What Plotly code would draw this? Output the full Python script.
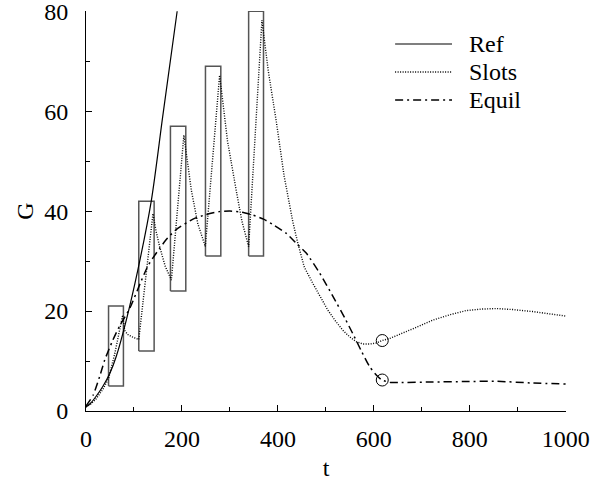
import plotly.graph_objects as go

# ---- data ----
ref_t = [0, 10, 20, 35, 50, 63, 84, 108, 136, 160, 190]
ref_g = [0.8, 1.6, 2.8, 4.9, 7.6, 10.9, 18.2, 28.2, 42.0, 59.0, 80.0]

slots_t = [0, 10, 20, 35, 47, 60, 76.5, 80.6, 87, 94.5, 110,
           139.6, 146, 153.5, 165, 178,
           204, 212, 219.5, 233, 248.7,
           278.5, 295, 313, 325, 339,
           366.7, 380, 396.7, 413, 431, 441.7, 455, 473, 490, 504, 520, 535, 550, 563,
           577, 591, 605, 617.5, 635, 653.5, 690, 723, 760, 792.5, 825, 855, 890, 931, 965, 1000]
slots_g = [0.8, 1.4, 2.3, 4.3, 6.5, 11.5, 19.2, 16.1, 15.3, 14.9, 14.3,
           39.5, 36.0, 32.9, 29.0, 26.2,
           55.2, 49.0, 44.2, 37.5, 32.9,
           67.2, 54.0, 44.2, 38.0, 32.9,
           78.2, 68.0, 57.9, 47.0, 37.9, 33.5, 28.8, 25.5, 22.6, 20.2, 18.0, 16.2, 14.8, 13.9,
           13.4, 13.4, 13.6, 14.1, 14.6, 15.3, 16.8, 18.2, 19.3, 20.1, 20.4, 20.5, 20.3, 19.9, 19.5, 19.0]

equil_t = [0, 15, 28.5, 39, 56, 70, 91, 115, 130, 153, 170, 188, 223, 250, 278, 300, 325, 348, 370,
           390, 418, 440, 459, 487, 515, 540, 556, 575, 591, 605, 617, 635, 653, 720, 792, 855, 931, 1000]
equil_g = [1.0, 3.2, 6.9, 10.2, 14.2, 17.0, 20.5, 26.0, 29.2, 32.5, 34.6, 36.3, 38.4, 39.3, 39.9, 40.0, 39.8, 39.2, 38.4,
           37.3, 35.5, 33.4, 31.6, 27.6, 22.9, 18.5, 15.5, 11.8, 8.9, 7.2, 6.2, 5.7, 5.7, 5.8, 5.9, 5.95, 5.6, 5.4]

# slots (rectangles)
rect_t0 = [47, 110, 176, 249, 339]
rect_t1 = [78, 142, 208, 281, 370]
rect_lo = [5, 12, 24, 31, 31]
rect_hi = [21, 42, 57, 69, 80]

# circled points
circ_t = [617.5, 617.5]
circ_g = [14.1, 6.2]

legend_names = ["Ref", "Slots", "Equil"]

x_ticks = [0, 200, 400, 600, 800, 1000]
y_ticks = [0, 20, 40, 60, 80]

FONT = "Liberation Serif"
DOT = "1px,1.5px"
DASHDOT = "8px,4px,2px,4px"

fig = go.Figure()

for a, b, lo, hi in zip(rect_t0, rect_t1, rect_lo, rect_hi):
    fig.add_trace(go.Scatter(x=[a, b, b, a, a], y=[lo, lo, hi, hi, lo], mode="lines",
                             line=dict(color="#555555", width=1.5), showlegend=False,
                             hoverinfo="skip", cliponaxis=False))

fig.add_trace(go.Scatter(x=ref_t, y=ref_g, mode="lines", line=dict(color="black", width=1.2, shape="spline", smoothing=0.8),
                         showlegend=False))
fig.add_trace(go.Scatter(x=slots_t, y=slots_g, mode="lines", line=dict(color="black", width=1.4, dash=DOT),
                         showlegend=False))
fig.add_trace(go.Scatter(x=equil_t, y=equil_g, mode="lines",
                         line=dict(color="black", width=1.5, dash=DASHDOT, shape="spline", smoothing=0.6),
                         showlegend=False))
fig.add_trace(go.Scatter(x=circ_t, y=circ_g, mode="markers",
                         marker=dict(symbol="circle-open", size=12, color="black", line=dict(width=1)),
                         showlegend=False))

# custom legend
leg_y = [0.9175, 0.8475, 0.7775]
leg_dash = ["solid", DOT, DASHDOT]
leg_w = [1.2, 1.4, 1.5]
for name, yy, d, w in zip(legend_names, leg_y, leg_dash, leg_w):
    fig.add_shape(type="line", xref="paper", yref="paper", x0=0.644, x1=0.7625, y0=yy, y1=yy,
                  line=dict(color="black", width=w, dash=d))
    fig.add_annotation(xref="paper", yref="paper", x=0.794, y=yy, text=name, showarrow=False,
                       xanchor="left", yanchor="middle", font=dict(family=FONT, size=24, color="#000000"))

axis_common = dict(showgrid=False, zeroline=False, showline=True, linecolor="black", linewidth=1,
                   ticks="inside", ticklen=6, tickcolor="black", tickwidth=1, automargin=False,
                   ticklabeloverflow="allow",
                   tickfont=dict(family=FONT, size=24, color="#000000"), mirror=False)

fig.update_xaxes(range=[0, 1000.5], tickvals=x_ticks, ticktext=[str(v) for v in x_ticks],
                 minor=dict(dtick=100, ticks="inside", ticklen=4, tickcolor="black"),
                 title=dict(text="t", font=dict(family=FONT, size=24, color="#000000"), standoff=12),
                 ticklabelstandoff=6, **axis_common)
fig.update_yaxes(range=[0, 80.05], tickvals=y_ticks, ticktext=[str(v) for v in y_ticks],
                 minor=dict(dtick=10, ticks="inside", ticklen=4, tickcolor="black"),
                 title=dict(text="G", font=dict(family=FONT, size=24, color="#000000"), standoff=3),
                 ticklabelstandoff=12, **axis_common)

fig.update_layout(width=593, height=481, margin=dict(l=86, r=27, t=11, b=70),
                  plot_bgcolor="white", paper_bgcolor="white", showlegend=False,
                  font=dict(family=FONT, color="#000000"))

fig.write_html("out.html")
